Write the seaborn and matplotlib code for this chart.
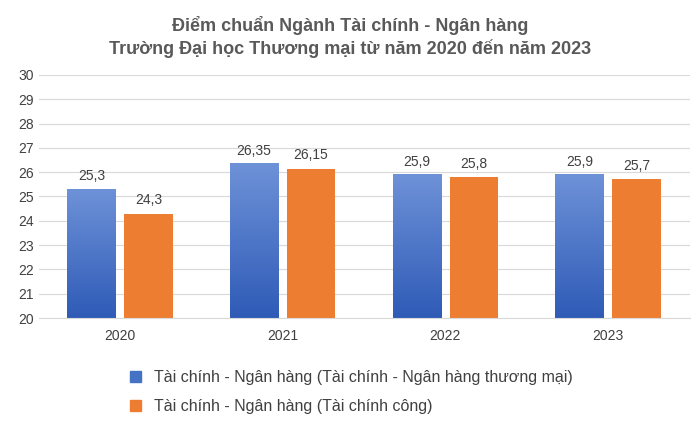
import numpy as np
import pandas as pd
import matplotlib
matplotlib.use("Agg")
import matplotlib.pyplot as plt
import seaborn as sns
from matplotlib.colors import LinearSegmentedColormap
from matplotlib.patches import Patch

years = ["2020", "2021", "2022", "2023"]
series_names = ["Tài chính - Ngân hàng (Tài chính - Ngân hàng thương mại)",
                "Tài chính - Ngân hàng (Tài chính công)"]
blue_vals = [25.3, 26.35, 25.9, 25.9]
orange_vals = [24.3, 26.15, 25.8, 25.7]
blue_labels = ["25,3", "26,35", "25,9", "25,9"]
orange_labels = ["24,3", "26,15", "25,8", "25,7"]

df = pd.DataFrame({
    "year": years * 2,
    "series": [series_names[0]] * 4 + [series_names[1]] * 4,
    "value": blue_vals + orange_vals,
})

plt.rcParams["font.family"] = "Liberation Sans"
fig = plt.figure(figsize=(7, 4.23), dpi=100)
ax = fig.add_axes([0.055, 0.248, 0.93, 0.575])

sns.barplot(data=df, x="year", y="value", hue="series",
            palette=["#4472C4", "#ED7D31"], saturation=1, width=0.7, gap=0.15,
            ax=ax, legend=False, zorder=2)

ax.set_ylim(20, 30)
ax.set_yticks(range(20, 31))
ax.set_xlim(-0.5, 3.5)
ax.grid(axis="y", color="#D9D9D9", linewidth=0.8, zorder=0)
ax.set_axisbelow(True)
for s in ["top", "right", "left"]:
    ax.spines[s].set_visible(False)
ax.spines["bottom"].set_color("#D9D9D9")
ax.tick_params(length=0, labelsize=10, colors="#404040")
ax.tick_params(axis="x", pad=8)
ax.set_xlabel("")
ax.set_ylabel("")

# gradient on blue bars (only the visible part above 20)
cmap = LinearSegmentedColormap.from_list("bl", ["#2F5BB7", "#6E92D8"])
grad = np.linspace(0, 1, 256).reshape(-1, 1)
patches = ax.patches
blue_patches = patches[:4]
orange_patches = patches[4:8]
for p in blue_patches:
    x0, w, top = p.get_x(), p.get_width(), p.get_height()
    ax.imshow(grad, cmap=cmap, extent=[x0, x0 + w, 20, top],
              origin="lower", aspect="auto", zorder=2.5)
ax.set_xlim(-0.5, 3.5)
ax.set_ylim(20, 30)

for p, lab in zip(blue_patches, blue_labels):
    ax.text(p.get_x() + p.get_width() / 2, p.get_height() + 0.25, lab,
            ha="center", va="bottom", fontsize=10, color="#404040")
for p, lab in zip(orange_patches, orange_labels):
    ax.text(p.get_x() + p.get_width() / 2, p.get_height() + 0.25, lab,
            ha="center", va="bottom", fontsize=10, color="#404040")

fig.text(0.5, 0.94, "Điểm chuẩn Ngành Tài chính - Ngân hàng", ha="center",
         va="center", fontsize=13, fontweight="bold", color="#595959")
fig.text(0.5, 0.885, "Trường Đại học Thương mại từ năm 2020 đến năm 2023",
         ha="center", va="center", fontsize=13, fontweight="bold", color="#595959")

handles = [Patch(color="#4472C4"), Patch(color="#ED7D31")]
fig.legend(handles, series_names, loc="upper left", bbox_to_anchor=(0.165, 0.16),
           frameon=False, fontsize=11.5, handlelength=0.7, handleheight=0.7,
           labelspacing=0.9, labelcolor="#404040")

fig.savefig("out.png", dpi=100)
